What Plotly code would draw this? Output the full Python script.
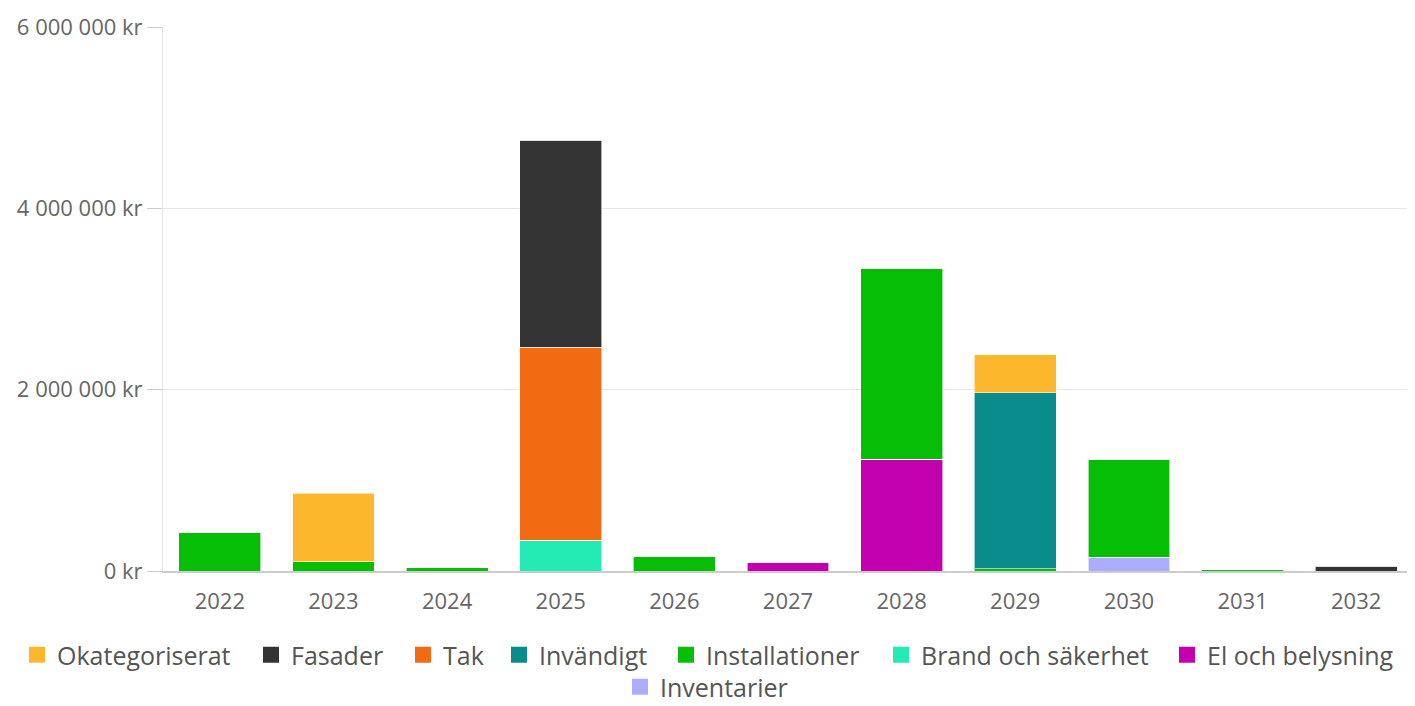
import plotly.graph_objects as go

years = ["2022", "2023", "2024", "2025", "2026", "2027", "2028", "2029", "2030", "2031", "2032"]

okategoriserat = [0, 760000, 0, 0, 0, 0, 0, 420000, 0, 0, 0]
fasader = [0, 0, 0, 2280000, 0, 0, 0, 0, 0, 0, 55000]
tak = [0, 0, 0, 2130000, 0, 0, 0, 0, 0, 0, 0]
invandigt = [0, 0, 0, 0, 0, 0, 0, 1940000, 0, 0, 0]
installationer = [420000, 100000, 35000, 0, 165000, 0, 2105000, 25000, 1085000, 12000, 0]
brand = [0, 0, 0, 340000, 0, 0, 0, 0, 0, 0, 0]
el = [0, 0, 0, 0, 0, 90000, 1235000, 0, 0, 0, 0]
inventarier = [0, 0, 0, 0, 0, 0, 0, 0, 150000, 0, 0]

names = ["Okategoriserat", "Fasader", "Tak", "Invändigt", "Installationer",
         "Brand och säkerhet", "El och belysning", "Inventarier"]
values = [okategoriserat, fasader, tak, invandigt, installationer, brand, el, inventarier]
colors = ["#FDB72C", "#333333", "#F26A12", "#0A8C8C", "#05BE05", "#24EBB4", "#C300B0", "#ADADFF"]

y_tickvals = [0, 2000000, 4000000, 6000000]
y_ticktext = ["0 kr", "2 000 000 kr", "4 000 000 kr", "6 000 000 kr"]

# legend layout (page pixels): swatch centre x, row centre y
legend_swatch_x = [37, 271, 423, 519, 686, 901, 1187, 640]
legend_row_y = [655, 655, 655, 655, 655, 655, 655, 687]

FONT = "Open Sans, sans-serif"

# page body has an 8px margin: figure is offset by (8, 8)
OFF = 8
W, H = 1415 - OFF, 706 - OFF

fig = go.Figure()
# first series is drawn on top of the stack
for name, vals, color in reversed(list(zip(names, values, colors))):
    fig.add_trace(go.Bar(
        x=years, y=vals, name=name, legendgroup=name, showlegend=False,
        marker=dict(color=color, line=dict(color="rgba(255,255,255,0.6)", width=1)),
    ))

legend_layouts = {}
for i, (name, color) in enumerate(zip(names, colors)):
    lname = "legend" if i == 0 else f"legend{i + 1}"
    fig.add_trace(go.Scatter(
        x=[None], y=[None], mode="markers", name=name, legendgroup=name,
        legend=lname, showlegend=True,
        marker=dict(symbol="square", size=22, color=color),
    ))
    legend_layouts[lname] = dict(
        orientation="h",
        xref="container", yref="container",
        x=(legend_swatch_x[i] - 20 - OFF) / W, xanchor="left",
        y=(H - (legend_row_y[i] - OFF)) / H, yanchor="middle",
        font=dict(family=FONT, size=25, color="#555555"),
        bgcolor="rgba(0,0,0,0)",
    )

fig.update_layout(
    barmode="stack",
    bargap=0.28,
    width=W, height=H,
    margin=dict(l=155, r=2, t=19, b=135, autoexpand=False),
    paper_bgcolor="white", plot_bgcolor="white",
    font=dict(family=FONT, size=22, color="#666666"),
    showlegend=True,
    **legend_layouts,
)
fig.update_xaxes(
    showline=True, linecolor="#cccccc", linewidth=2,
    ticks="", tickangle=0, ticklabelstandoff=10,
    tickfont=dict(family=FONT, size=22, color="#666666"),
    showgrid=False,
)
fig.update_yaxes(
    range=[0, 6000000],
    tickvals=y_tickvals, ticktext=y_ticktext,
    showgrid=True, gridcolor="#e6e6e6", gridwidth=1,
    showline=True, linecolor="#e6e6e6", linewidth=1,
    ticks="outside", ticklen=15, tickcolor="#cccccc",
    tickfont=dict(family=FONT, size=22, color="#666666"),
    zeroline=False,
)

fig.write_html("out.html")
